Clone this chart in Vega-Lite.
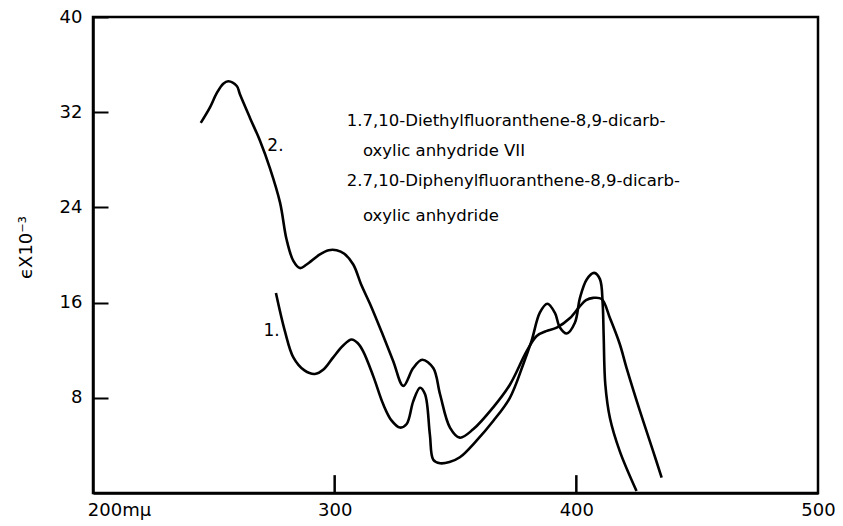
{
  "$schema": "https://vega.github.io/schema/vega-lite/v6.json",
  "width": 725,
  "height": 476,
  "autosize": "none",
  "padding": {"left": 93, "top": 17, "right": 25, "bottom": 33},
  "background": "white",
  "config": {
    "view": {"stroke": "black", "strokeWidth": 2.5},
    "font": "DejaVu Sans"
  },
  "datasets": {
    "curves": [
      {"wl": 275.7, "eps": 16.8, "s": "1"},
      {"wl": 279.4, "eps": 13.6, "s": "1"},
      {"wl": 282.9, "eps": 11.4, "s": "1"},
      {"wl": 287.5, "eps": 10.3, "s": "1"},
      {"wl": 291.8, "eps": 10.0, "s": "1"},
      {"wl": 295.5, "eps": 10.4, "s": "1"},
      {"wl": 299.4, "eps": 11.4, "s": "1"},
      {"wl": 303.5, "eps": 12.4, "s": "1"},
      {"wl": 307.0, "eps": 12.9, "s": "1"},
      {"wl": 309.5, "eps": 12.6, "s": "1"},
      {"wl": 311.8, "eps": 11.9, "s": "1"},
      {"wl": 316.0, "eps": 9.8, "s": "1"},
      {"wl": 320.1, "eps": 7.45, "s": "1"},
      {"wl": 323.5, "eps": 6.1, "s": "1"},
      {"wl": 327.0, "eps": 5.5, "s": "1"},
      {"wl": 329.8, "eps": 5.8, "s": "1"},
      {"wl": 332.5, "eps": 7.7, "s": "1"},
      {"wl": 335.3, "eps": 8.85, "s": "1"},
      {"wl": 337.4, "eps": 8.3, "s": "1"},
      {"wl": 339.4, "eps": 4.9, "s": "1"},
      {"wl": 340.8, "eps": 2.8, "s": "1"},
      {"wl": 343.6, "eps": 2.5, "s": "1"},
      {"wl": 347.5, "eps": 2.6, "s": "1"},
      {"wl": 351.8, "eps": 3.0, "s": "1"},
      {"wl": 358.7, "eps": 4.4, "s": "1"},
      {"wl": 365.6, "eps": 6.05, "s": "1"},
      {"wl": 372.5, "eps": 8.0, "s": "1"},
      {"wl": 378.0, "eps": 10.8, "s": "1"},
      {"wl": 381.5, "eps": 12.8, "s": "1"},
      {"wl": 384.9, "eps": 15.15, "s": "1"},
      {"wl": 388.0, "eps": 15.9, "s": "1"},
      {"wl": 391.1, "eps": 15.15, "s": "1"},
      {"wl": 393.2, "eps": 13.9, "s": "1"},
      {"wl": 396.0, "eps": 13.4, "s": "1"},
      {"wl": 399.4, "eps": 14.3, "s": "1"},
      {"wl": 401.5, "eps": 16.4, "s": "1"},
      {"wl": 404.3, "eps": 17.95, "s": "1"},
      {"wl": 407.4, "eps": 18.5, "s": "1"},
      {"wl": 409.8, "eps": 17.95, "s": "1"},
      {"wl": 410.9, "eps": 15.9, "s": "1"},
      {"wl": 411.3, "eps": 13.3, "s": "1"},
      {"wl": 412.0, "eps": 9.1, "s": "1"},
      {"wl": 413.9, "eps": 6.3, "s": "1"},
      {"wl": 418.0, "eps": 3.5, "s": "1"},
      {"wl": 424.9, "eps": 0.17, "s": "1"},

      {"wl": 244.6, "eps": 31.1, "s": "2"},
      {"wl": 248.4, "eps": 32.4, "s": "2"},
      {"wl": 251.2, "eps": 33.6, "s": "2"},
      {"wl": 253.9, "eps": 34.4, "s": "2"},
      {"wl": 256.0, "eps": 34.6, "s": "2"},
      {"wl": 259.5, "eps": 34.2, "s": "2"},
      {"wl": 260.8, "eps": 33.5, "s": "2"},
      {"wl": 265.0, "eps": 31.5, "s": "2"},
      {"wl": 269.1, "eps": 29.6, "s": "2"},
      {"wl": 273.2, "eps": 27.3, "s": "2"},
      {"wl": 277.4, "eps": 24.4, "s": "2"},
      {"wl": 280.1, "eps": 21.3, "s": "2"},
      {"wl": 282.9, "eps": 19.5, "s": "2"},
      {"wl": 285.6, "eps": 18.9, "s": "2"},
      {"wl": 288.4, "eps": 19.2, "s": "2"},
      {"wl": 293.9, "eps": 20.05, "s": "2"},
      {"wl": 297.5, "eps": 20.4, "s": "2"},
      {"wl": 300.8, "eps": 20.4, "s": "2"},
      {"wl": 304.0, "eps": 20.1, "s": "2"},
      {"wl": 307.7, "eps": 19.2, "s": "2"},
      {"wl": 311.0, "eps": 17.5, "s": "2"},
      {"wl": 314.6, "eps": 15.9, "s": "2"},
      {"wl": 319.5, "eps": 13.5, "s": "2"},
      {"wl": 324.2, "eps": 11.1, "s": "2"},
      {"wl": 328.4, "eps": 9.0, "s": "2"},
      {"wl": 332.5, "eps": 10.5, "s": "2"},
      {"wl": 336.2, "eps": 11.2, "s": "2"},
      {"wl": 340.8, "eps": 10.5, "s": "2"},
      {"wl": 343.6, "eps": 8.3, "s": "2"},
      {"wl": 347.7, "eps": 5.5, "s": "2"},
      {"wl": 351.8, "eps": 4.65, "s": "2"},
      {"wl": 357.3, "eps": 5.35, "s": "2"},
      {"wl": 365.6, "eps": 7.2, "s": "2"},
      {"wl": 372.5, "eps": 9.1, "s": "2"},
      {"wl": 379.4, "eps": 11.9, "s": "2"},
      {"wl": 383.6, "eps": 13.2, "s": "2"},
      {"wl": 387.5, "eps": 13.6, "s": "2"},
      {"wl": 391.9, "eps": 13.9, "s": "2"},
      {"wl": 397.4, "eps": 14.7, "s": "2"},
      {"wl": 401.5, "eps": 15.7, "s": "2"},
      {"wl": 404.0, "eps": 16.2, "s": "2"},
      {"wl": 407.0, "eps": 16.4, "s": "2"},
      {"wl": 410.5, "eps": 16.3, "s": "2"},
      {"wl": 413.9, "eps": 14.7, "s": "2"},
      {"wl": 418.0, "eps": 12.5, "s": "2"},
      {"wl": 420.8, "eps": 10.5, "s": "2"},
      {"wl": 426.3, "eps": 6.9, "s": "2"},
      {"wl": 431.8, "eps": 3.5, "s": "2"},
      {"wl": 435.3, "eps": 1.3, "s": "2"}
    ],
    "notes": [
      {"wl": 305.0, "eps": 31.3, "label": "1.7,10-Diethylfluoranthene-8,9-dicarb-"},
      {"wl": 311.7, "eps": 28.7, "label": "oxylic anhydride VII"},
      {"wl": 305.0, "eps": 26.2, "label": "2.7,10-Diphenylfluoranthene-8,9-dicarb-"},
      {"wl": 311.7, "eps": 23.3, "label": "oxylic anhydride"}
    ],
    "curveLabels": [
      {"wl": 275.5, "eps": 29.2, "label": "2."},
      {"wl": 273.9, "eps": 13.6, "label": "1."}
    ],
    "xTicks": [
      {"wl": 300, "y0": 0, "y1": 1.5},
      {"wl": 400, "y0": 0, "y1": 1.5}
    ]
  },
  "layer": [
    {
      "data": {"name": "curves"},
      "mark": {"type": "line", "interpolate": "catmull-rom", "strokeWidth": 2.6, "color": "black"},
      "encoding": {
        "x": {
          "field": "wl", "type": "quantitative",
          "scale": {"domain": [200, 500], "nice": false, "zero": false},
          "axis": {
            "title": null, "grid": false,
            "values": [200, 300, 400, 500],
            "labelExpr": "datum.value == 200 ? '200mμ' : datum.label",
            "labelOffset": {"condition": {"test": "datum.value == 200", "value": 26}, "value": 0},
            "labelFontSize": 18, "labelColor": "black", "labelPadding": 8,
            "labelFlush": false, "labelOverlap": false,
            "ticks": false,
            "domainColor": "black", "domainWidth": 2.5
          }
        },
        "y": {
          "field": "eps", "type": "quantitative",
          "scale": {"domain": [0, 40], "nice": false},
          "axis": {
            "title": "ϵX10⁻³", "grid": false,
            "values": [8, 16, 24, 32, 40],
            "labelFontSize": 18, "labelColor": "black", "labelPadding": 26,
            "labelFlush": false, "labelOverlap": false,
            "ticks": true, "tickSize": -15, "tickColor": "black", "tickWidth": 2,
            "domainColor": "black", "domainWidth": 2.5,
            "titleFontSize": 18, "titleFontWeight": "normal", "titleColor": "black",
            "titleAngle": -90, "titleX": -67, "titleY": 230,
            "titleAlign": "center", "titleBaseline": "middle"
          }
        },
        "detail": {"field": "s", "type": "nominal"}
      }
    },
    {
      "data": {"name": "xTicks"},
      "mark": {"type": "line", "color": "black", "strokeWidth": 2.5},
      "transform": [{"fold": ["y0", "y1"], "as": ["k", "yv"]}],
      "encoding": {
        "x": {"field": "wl", "type": "quantitative"},
        "y": {"field": "yv", "type": "quantitative"},
        "detail": {"field": "wl", "type": "nominal"}
      }
    },
    {
      "data": {"name": "notes"},
      "mark": {"type": "text", "align": "left", "baseline": "middle", "fontSize": 16.5, "color": "black"},
      "encoding": {
        "x": {"field": "wl", "type": "quantitative"},
        "y": {"field": "eps", "type": "quantitative"},
        "text": {"field": "label"}
      }
    },
    {
      "data": {"name": "curveLabels"},
      "mark": {"type": "text", "align": "center", "baseline": "middle", "fontSize": 17, "color": "black"},
      "encoding": {
        "x": {"field": "wl", "type": "quantitative"},
        "y": {"field": "eps", "type": "quantitative"},
        "text": {"field": "label"}
      }
    }
  ]
}
